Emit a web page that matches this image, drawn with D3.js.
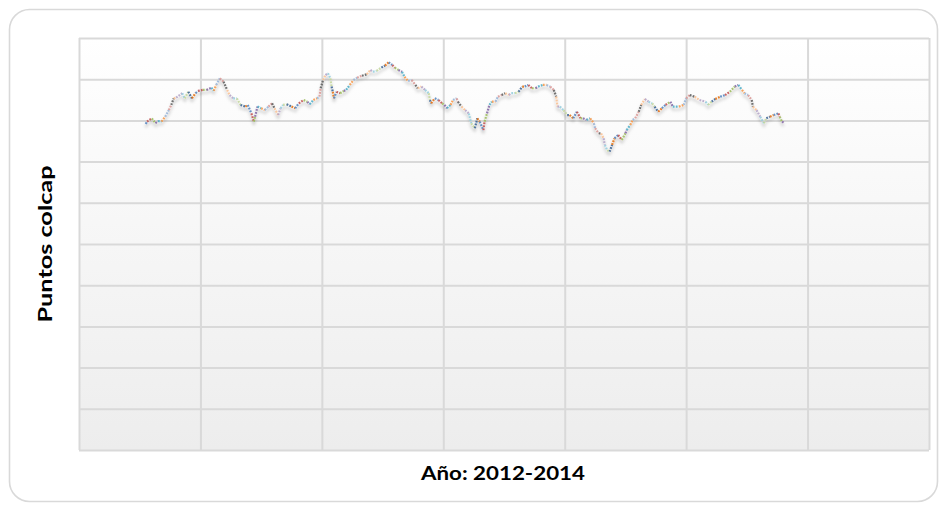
<!DOCTYPE html>
<html><head><meta charset="utf-8">
<script src="https://cdn.jsdelivr.net/npm/d3@7"></script>
<style>html,body{margin:0;padding:0;background:#fff;}svg{display:block;}</style>
</head><body>
<svg id="chart" width="948" height="512"></svg>
<script>
// Trading-day index (x) and COLCAP points (y)
const dias = [55,56,60,63,65,68,71,74,76,78,80,85,87,90,93,96,98,102,105,109,111,113,116,119,122,124,127,130,133,137,139,142,144,145,147,150,153,156,159,161,164,166,168,171,175,178,181,185,188,190,193,196,198,199,201,203,205,207,208,209,210,212,215,218,220,223,226,229,233,237,240,242,245,249,252,255,258,260,263,266,268,271,274,277,279,282,285,288,289,290,293,296,299,301,303,306,308,311,312,315,318,321,323,326,328,330,333,334,336,338,340,343,345,348,351,354,356,359,362,365,367,370,373,376,378,382,385,388,391,393,394,396,399,402,404,407,410,413,415,418,421,424,425,428,430,432,433,435,437,439,441,444,447,450,451,454,456,458,461,463,466,469,472,474,477,480,483,485,487,489,494,498,500,503,507,511,516,518,521,524,528,532,536,540,543,546,548,551,554,555,558,561,564,566,569,572,576,577,579,581];
const colcap = [1583,1594,1610,1586,1597,1594,1618,1650,1675,1707,1710,1732,1707,1739,1707,1732,1743,1748,1748,1759,1743,1772,1804,1788,1748,1723,1707,1707,1675,1667,1675,1634,1594,1618,1667,1659,1650,1667,1683,1659,1626,1659,1675,1678,1667,1659,1683,1699,1691,1678,1699,1707,1715,1756,1796,1820,1829,1804,1764,1739,1707,1739,1732,1743,1748,1772,1796,1807,1817,1824,1845,1836,1840,1856,1866,1882,1869,1856,1845,1836,1812,1791,1796,1772,1756,1764,1748,1732,1699,1683,1707,1699,1683,1675,1659,1675,1699,1707,1691,1667,1650,1634,1586,1562,1610,1594,1553,1594,1634,1675,1691,1691,1715,1723,1732,1723,1732,1732,1739,1764,1764,1772,1756,1756,1764,1772,1772,1764,1748,1715,1667,1667,1650,1626,1626,1610,1642,1610,1610,1602,1610,1586,1562,1537,1537,1513,1481,1456,1448,1481,1513,1529,1505,1537,1553,1578,1602,1610,1642,1675,1704,1691,1683,1667,1642,1659,1675,1683,1691,1667,1667,1675,1707,1723,1715,1699,1691,1675,1691,1704,1715,1723,1739,1764,1772,1748,1732,1723,1699,1667,1650,1618,1586,1610,1618,1626,1634,1618,1594,1586];
const yTicks = [0,200,400,600,800,1000,1200,1400,1600,1800,2000];
const xTicks = [0,100,200,300,400,500,600,700];
const palette = ["#4f81bd","#c0504d","#9bbb59","#8064a2","#4bacc6","#f79646","#95b3d7","#d99694","#595959","#fac090","#b3a2c7","#93cddd","#c3d69b","#376092","#e46c0a"];

const svg = d3.select("#chart");
const W = 948, H = 512;
const m = {left: 79, top: 38, right: 19, bottom: 62};
const pw = W - m.left - m.right, ph = H - m.top - m.bottom;

const defs = svg.append("defs");
const grad = defs.append("linearGradient").attr("id","bg").attr("x1",0).attr("y1",0).attr("x2",0).attr("y2",1);
grad.append("stop").attr("offset","0%").attr("stop-color","#ffffff");
grad.append("stop").attr("offset","100%").attr("stop-color","#ededed");
const f = defs.append("filter").attr("id","sh").attr("x","-10%").attr("y","-20%").attr("width","120%").attr("height","160%");
f.append("feDropShadow").attr("dx",0).attr("dy",3).attr("stdDeviation",1.8).attr("flood-color","#000").attr("flood-opacity",0.28);

// outer frame
svg.append("rect").attr("x",9.5).attr("y",9.5).attr("width",W-20).attr("height",H-20)
  .attr("rx",20).attr("fill","#fff").attr("stroke","#d9d9d9").attr("stroke-width",1.6);

const g = svg.append("g").attr("transform",`translate(${m.left},${m.top})`);
g.append("rect").attr("width",pw).attr("height",ph).attr("fill","url(#bg)");

const x = d3.scaleLinear().domain([0,700]).range([0,pw]);
const y = d3.scaleLinear().domain([0,2000]).range([ph,0]);

g.append("g").call(d3.axisLeft(y).tickValues(yTicks).tickSize(-pw).tickFormat(""))
  .call(s=>s.select(".domain").remove())
  .selectAll("line").attr("stroke","#d9d9d9").attr("stroke-width",2);
g.append("g").call(d3.axisBottom(x).tickValues(xTicks).tickSize(ph).tickFormat(""))
  .call(s=>s.select(".domain").remove())
  .selectAll("line").attr("stroke","#d9d9d9").attr("stroke-width",2);

// series: multi-coloured dotted segments
const pts = dias.map((d,i)=>[x(d), y(colcap[i])]);
const lg = g.append("g").attr("filter","url(#sh)");
for (let i=0;i<pts.length-1;i++){
  lg.append("line")
    .attr("x1",pts[i][0]).attr("y1",pts[i][1])
    .attr("x2",pts[i+1][0]).attr("y2",pts[i+1][1])
    .attr("stroke",palette[i%palette.length])
    .attr("stroke-width",2.2).attr("stroke-dasharray","1.8,1.2")
    .attr("stroke-opacity",0.85);
}

// titles
svg.append("text").attr("x", m.left + pw/2 - 1).attr("y",480).attr("text-anchor","middle")
  .attr("font-family","Lato, Liberation Sans, Arial, sans-serif").attr("font-weight","bold").attr("font-size",19)
  .attr("textLength",164).attr("lengthAdjust","spacingAndGlyphs")
  .attr("fill","#000").text("Año: 2012-2014");
svg.append("text").attr("transform",`translate(52,${m.top+ph/2}) rotate(-90)`).attr("text-anchor","middle")
  .attr("font-family","Lato, Liberation Sans, Arial, sans-serif").attr("font-weight","bold").attr("font-size",19)
  .attr("textLength",157).attr("lengthAdjust","spacingAndGlyphs")
  .attr("fill","#000").text("Puntos colcap");
</script>
</body></html>
